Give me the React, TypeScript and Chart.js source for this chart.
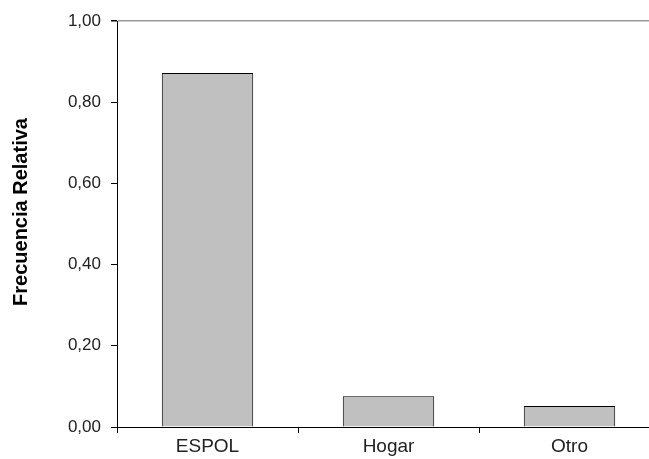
import React, { useEffect, useRef } from "react";
import { Chart, registerables } from "chart.js";

Chart.register(...registerables);

const categories = ["ESPOL", "Hogar", "Otro"];
const values = [0.872, 0.076, 0.052];
const yTicks = [0, 0.2, 0.4, 0.6, 0.8, 1.0];
const yTitle = "Frecuencia Relativa";

const yTitlePlugin = {
  id: "yTitlePlugin",
  afterDraw(chart: any) {
    const ctx = chart.ctx;
    ctx.save();
    ctx.translate(21, 212);
    ctx.rotate(-Math.PI / 2);
    ctx.font = "bold 20px 'Liberation Sans'";
    ctx.fillStyle = "#000";
    ctx.textAlign = "center";
    ctx.textBaseline = "middle";
    ctx.fillText(yTitle, 0, 0);
    ctx.restore();
  },
};

export default function App() {
  const ref = useRef<HTMLCanvasElement | null>(null);
  useEffect(() => {
    if (!ref.current) return;
    const chart = new Chart(ref.current, {
      type: "bar",
      data: {
        labels: categories,
        datasets: [
          {
            data: values,
            backgroundColor: "#c0c0c0",
            borderColor: "#000000",
            borderWidth: 1,
            categoryPercentage: 1,
            barPercentage: 0.505,
          },
        ],
      },
      plugins: [yTitlePlugin],
      options: {
        animation: false,
        responsive: false,
        maintainAspectRatio: false,
        layout: { padding: { left: 0, right: 20, top: 21, bottom: 0 } },
        plugins: { legend: { display: false }, tooltip: { enabled: false } },
        scales: {
          x: {
            grid: {
              offset: true,
              color: "transparent",
              tickColor: "#000",
              tickLength: 6,
              drawOnChartArea: false,
            },
            border: { color: "#000", width: 1 },
            ticks: {
              color: "#222",
              font: { family: "Liberation Sans", size: 19 },
              padding: 2,
            },
            afterFit: (s: any) => {
              s.height = 32;
            },
          },
          y: {
            min: 0,
            max: 1,
            afterBuildTicks: (s: any) => {
              s.ticks = yTicks.map((v) => ({ value: v }));
            },
            grid: {
              color: (c: any) => (c.tick && c.tick.value === 1 ? "#999" : "transparent"),
              lineWidth: (c: any) => (c.tick && c.tick.value === 1 ? 1.5 : 1),
              tickColor: "#000",
              tickLength: 6,
            },
            border: { color: "#000", width: 1 },
            ticks: {
              color: "#222",
              font: { family: "Liberation Sans", size: 17 },
              padding: 10,
              callback: (v: any) => Number(v).toFixed(2).replace(".", ","),
            },
            afterFit: (s: any) => {
              s.width = 117;
            },
          },
        },
      },
    });
    return () => chart.destroy();
  }, []);
  return (
    <div style={{ position: "fixed", left: 0, top: 0, width: 649, height: 459, overflow: "hidden", background: "#fff" }}>
      <canvas ref={ref} width={680} height={459} style={{ display: "block", width: 680, height: 459 }} />
    </div>
  );
}
